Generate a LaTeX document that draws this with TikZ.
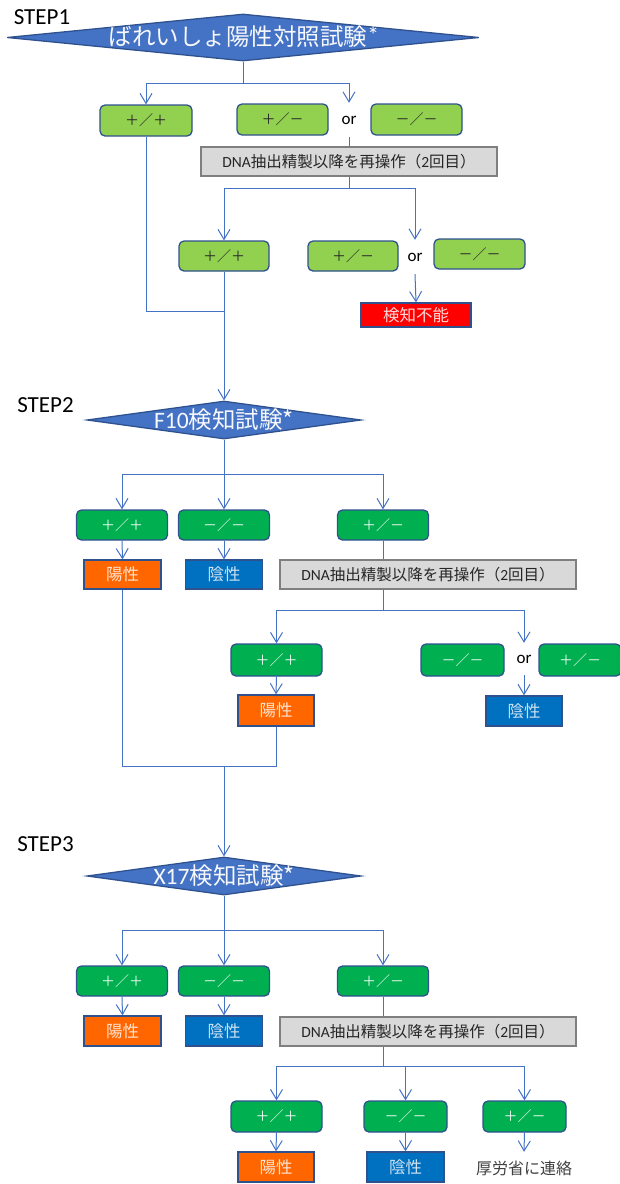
\documentclass[tikz,border=0pt]{standalone}
\usepackage{fontspec}
\setmainfont{Carlito}
\newfontfamily\jp{Noto Sans CJK JP}
\usetikzlibrary{arrows.meta,shapes.geometric}
\definecolor{lblue}{HTML}{4472C4}
\definecolor{bord}{HTML}{2F528F}
\definecolor{lgreen}{HTML}{92D050}
\definecolor{dgreen}{HTML}{00B050}
\definecolor{grayf}{HTML}{D9D9D9}
\definecolor{grayb}{HTML}{7F7F7F}
\definecolor{txtdark}{HTML}{262626}
\definecolor{porange}{HTML}{FF6600}
\definecolor{nblue}{HTML}{0070C0}
\definecolor{rred}{HTML}{FF0000}
\definecolor{tgray}{HTML}{404040}
\tikzset{
 ln/.style={draw=lblue, line width=1pt},
 arr/.style={ln, -{Straight Barb[length=10pt,width=12pt]}},
 lgbox/.style={draw=bord, fill=lgreen, rounded corners=5pt, line width=1.3pt, minimum height=31, inner sep=0, text=txtdark, font=\jp\fontsize{14}{14}\selectfont},
 dgbox/.style={lgbox, fill=dgreen, text=white!92!dgreen},
 resbox/.style={draw=bord, line width=1.3pt, minimum height=30, inner sep=0, font=\jp\fontsize{16.5}{16}\selectfont},
 posbox/.style={resbox, fill=porange, text=white!82!porange, minimum width=77},
 negbox/.style={resbox, fill=nblue, text=white!80!nblue, minimum width=77},
 graybox/.style={draw=grayb, fill=grayf, line width=1.3pt, minimum width=296, minimum height=29, inner sep=0, text=txtdark, font=\fontsize{15.5}{15}\selectfont},
 diam/.style={diamond, draw=bord, fill=lblue, line width=1.3pt, inner sep=0},
 dtext/.style={text=white!95!lblue, font=\fontsize{23.5}{23}\selectfont, inner sep=0},
 steplabel/.style={text=black, font=\fontsize{23}{23}\selectfont, inner sep=0},
 ortext/.style={text=black, font=\fontsize{17}{17}\selectfont, inner sep=0, minimum height=34},
}
\newcommand{\redo}{DNA{\jp 抽出精製以降を再操作（}2{\jp 回目）}}
\begin{document}
\begin{tikzpicture}[x=1pt,y=-1pt]
\useasboundingbox (0,0) rectangle (619,1184);

% ---------- STEP 1 ----------
\node[steplabel] (s1) at (42,17) {STEP1};
\node[diam, minimum width=472, minimum height=47] (d1) at (243,37.5) {};
\node[dtext] (d1t) at (244,37) {{\jp ばれいしょ陽性対照試験}\raisebox{0.1em}{*}};

\node[lgbox, minimum width=92] (b11) at (146,120.5) {＋／＋};
\node[lgbox, minimum width=91] (b12) at (282.5,119.5) {＋／－};
\node[ortext] (or1) at (349,120) {or};
\node[lgbox, minimum width=91] (b13) at (416.5,119.5) {－／－};
\node[graybox] (g1) at (349,161.5) {\redo};

\node[lgbox, minimum width=90, minimum height=30] (b21) at (224,256) {＋／＋};
\node[lgbox, minimum width=90, minimum height=30] (b22) at (353,256) {＋／－};
\node[ortext] (or2) at (415,257) {or};
\node[lgbox, minimum width=91, minimum height=30] (b23) at (479.5,254) {－／－};
\node[resbox, fill=rred, text=white!85!rred, minimum width=110, minimum height=24] (r1) at (416,315) {検知不能};

\coordinate (j1) at (243,83);
\draw[ln] (d1.south) -- (j1);
\draw[arr] (j1) -| (b11.north);
\draw[arr] (j1) -| (or1.north);
\draw[ln] (or1.south) -- (g1.north);
\coordinate (j2) at (349,188);
\draw[ln] (g1.south) -- (j2);
\draw[arr] (j2) -| (b21.north);
\draw[arr] (j2) -| (or2.north);
\draw[arr] (or2.south) -- (r1.north);
\coordinate (j3) at (224,311);
\draw[ln] (b11.south) |- (j3);
\draw[ln] (b21.south) -- (j3);

% ---------- STEP 2 ----------
\node[steplabel] (s2) at (45.5,405) {STEP2};
\node[diam, minimum width=274, minimum height=38] (d2) at (224,420) {};
\node[dtext] (d2t) at (224,420) {F10{\jp 検知試験*}};
\draw[arr] (j3) -- (d2.north);

\node[dgbox, minimum width=91, minimum height=30] (b31) at (122,525) {＋／＋};
\node[dgbox, minimum width=91, minimum height=30] (b32) at (224,525) {－／－};
\node[dgbox, minimum width=91, minimum height=30] (b33) at (383,525) {＋／－};
\node[posbox, minimum height=29] (p31) at (122.5,574.5) {陽性};
\node[negbox, minimum height=29] (n31) at (224,574.5) {陰性};
\node[graybox] (g2) at (428,574.5) {\redo};

\node[dgbox, minimum width=91, minimum height=32] (b41) at (276.5,660) {＋／＋};
\node[dgbox, minimum width=83, minimum height=32] (b42) at (462.5,660) {－／－};
\node[ortext, minimum height=32] (or3) at (524,659) {or};
\node[dgbox, minimum width=82, minimum height=32] (b43) at (580,660) {＋／－};
\node[posbox, minimum width=76, minimum height=31] (p41) at (276,710.5) {陽性};
\node[negbox, minimum width=76] (n41) at (524,711) {陰性};

\coordinate (j4) at (224,474);
\draw[ln] (d2.south) -- (j4);
\draw[arr] (j4) -| (b31.north);
\draw[arr] (j4) -- (b32.north);
\draw[arr] (j4) -| (b33.north);
\draw[arr] (b31.south) -- (p31.north);
\draw[arr] (b32.south) -- (n31.north);
\draw[ln] (b33.south) -- (b33.south |- g2.north);
\coordinate (j5) at (383,610);
\draw[ln] (j5 |- g2.south) -- (j5);
\draw[arr] (j5) -| (b41.north);
\draw[arr] (j5) -| (or3.north);
\draw[arr] (b41.south) -- (p41.north);
\draw[arr] (or3.south) -- (n41.north);
\coordinate (j8) at (224,766);
\draw[ln] (p31.south) |- (p41.south |- j8) -- (p41.south);

% ---------- STEP 3 ----------
\node[steplabel] (s3) at (45.5,844) {STEP3};
\node[diam, minimum width=274, minimum height=38] (d3) at (224,876) {};
\node[dtext] (d3t) at (224,876) {X17{\jp 検知試験*}};
\draw[arr] (j8) -- (d3.north);

\node[dgbox, minimum width=91, minimum height=30] (b51) at (122,981) {＋／＋};
\node[dgbox, minimum width=91, minimum height=30] (b52) at (224,981) {－／－};
\node[dgbox, minimum width=91, minimum height=30] (b53) at (383,981) {＋／－};
\node[posbox] (p51) at (122.5,1031) {陽性};
\node[negbox] (n51) at (224,1031) {陰性};
\node[graybox] (g3) at (428,1031.5) {\redo};

\node[dgbox, minimum width=91, minimum height=31] (b61) at (276.5,1116.5) {＋／＋};
\node[dgbox, minimum width=83, minimum height=31] (b62) at (405.5,1116.5) {－／－};
\node[dgbox, minimum width=83, minimum height=31] (b63) at (524.5,1116.5) {＋／－};
\node[posbox, minimum width=76] (p61) at (276,1167) {陽性};
\node[negbox] (n61) at (405.5,1167) {陰性};
\node[text=tgray, font=\jp\fontsize{16}{16}\selectfont, inner sep=0, minimum height=32] (t61) at (524,1168) {厚労省に連絡};

\coordinate (j6) at (224,930);
\draw[ln] (d3.south) -- (j6);
\draw[arr] (j6) -| (b51.north);
\draw[arr] (j6) -- (b52.north);
\draw[arr] (j6) -| (b53.north);
\draw[arr] (b51.south) -- (p51.north);
\draw[arr] (b52.south) -- (n51.north);
\draw[ln] (b53.south) -- (b53.south |- g3.north);
\coordinate (j7) at (383,1066);
\draw[ln] (j7 |- g3.south) -- (j7);
\draw[arr] (j7) -| (b61.north);
\draw[arr] (j7) -| (b62.north);
\draw[arr] (j7) -| (b63.north);
\draw[arr] (b61.south) -- (p61.north);
\draw[arr] (b62.south) -- (n61.north);
\draw[arr] (b63.south) -- (t61.north);
\end{tikzpicture}
\end{document}
